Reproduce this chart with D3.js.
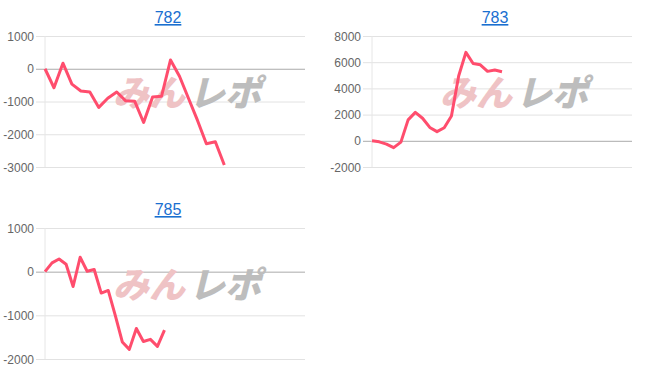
<!DOCTYPE html>
<html>
<head>
<meta charset="UTF-8">
<title>782 / 783 / 785</title>
<script src="https://cdn.jsdelivr.net/npm/d3@7"></script>
<style>
    body { margin: 0; padding: 0; background: #fff; }
    svg { display: block; font-family: "Liberation Sans", Arial, sans-serif; }
    .title { fill: #1a6fd0; font-size: 16px; text-decoration: underline; }
    .axis text { fill: #666; font-size: 12px; }
    .mark { font-family: "Noto Sans CJK JP", sans-serif; font-weight: 900; font-size: 36px; }
</style>
</head>
<body>
<script>
    // machine numbers (chart titles)
    const names = ["782", "783", "785"];

    // number of x slots per chart (labels are hidden in the original)
    const slots782 = 30, slots783 = 37, slots785 = 38;

    // cumulative differences
    const values782 = [0, -580, 170, -470, -680, -710, -1180, -900, -710, -980, -990,
        -1640, -860, -840, 270, -230, -900, -1570, -2290, -2230, -2940];
    const values783 = [0, -80, -250, -520, -100, 1600, 2170, 1720, 1020, 700, 1000,
        1900, 4950, 6750, 5900, 5800, 5300, 5400, 5270];
    const values785 = [0, 200, 290, 170, -340, 330, 10, 50, -490, -430, -1000,
        -1610, -1780, -1300, -1600, -1550, -1710, -1340];

    // y tick labels
    const ticks782 = [-3000, -2000, -1000, 0, 1000];
    const ticks783 = [-2000, 0, 2000, 4000, 6000, 8000];
    const ticks785 = [-2000, -1000, 0, 1000];

    const charts = [
        {name: names[0], slots: slots782, values: values782, ticks: ticks782, left: 45, top: 36},
        {name: names[1], slots: slots783, values: values783, ticks: ticks783, left: 372, top: 36},
        {name: names[2], slots: slots785, values: values785, ticks: ticks785, left: 45, top: 228}
    ];

    const plotW = 260, plotH = 131;

    const svg = d3.select("body").append("svg")
        .attr("width", 652)
        .attr("height", 382);

    charts.forEach(function (c) {
        const g = svg.append("g")
            .attr("transform", "translate(" + c.left + "," + c.top + ")");

        const x = d3.scalePoint()
            .domain(d3.range(c.slots))
            .range([0, plotW]);

        const y = d3.scaleLinear()
            .domain(d3.extent(c.ticks))
            .range([plotH, 0]);

        // title
        g.append("text")
            .attr("class", "title")
            .attr("x", plotW / 2 - 7)
            .attr("y", -13)
            .attr("text-anchor", "middle")
            .text(c.name);

        // y axis with full-width grid lines
        const axis = g.append("g")
            .attr("class", "axis")
            .call(d3.axisLeft(y)
                .tickValues(c.ticks)
                .tickFormat(function (d) { return String(d); })
                .tickSize(-plotW - 9)
                .tickPadding(2));
        axis.select(".domain").remove();
        axis.selectAll(".tick line")
            .attr("x1", -9)
            .attr("x2", plotW)
            .attr("stroke", function (d) { return d === 0 ? "#aaa" : "#e2e2e2"; });
        axis.selectAll(".tick text").attr("x", -11).attr("dy", "0.34em");

        g.append("line")
            .attr("x1", 0).attr("x2", 0)
            .attr("y1", 0).attr("y2", plotH)
            .attr("stroke", "#e6e6e6");

        // watermark logo
        const mark = g.append("g")
            .attr("transform", "translate(" + (plotW / 2 + 12) + "," + (y.range()[1] + 70) + ") skewX(-14)");
        mark.append("text")
            .attr("class", "mark")
            .attr("x", -2)
            .attr("text-anchor", "end")
            .attr("fill", "#efc3c5")
            .text("みん");
        mark.append("text")
            .attr("class", "mark")
            .attr("x", 2)
            .attr("fill", "#bdbdbd")
            .text("レポ");

        // line
        const line = d3.line()
            .x(function (d, i) { return x(i); })
            .y(function (d) { return y(d); });

        g.append("path")
            .datum(c.values)
            .attr("fill", "none")
            .attr("stroke", "#ff4d6d")
            .attr("stroke-width", 3)
            .attr("stroke-linejoin", "round")
            .attr("d", line);
    });
</script>
</body>
</html>
